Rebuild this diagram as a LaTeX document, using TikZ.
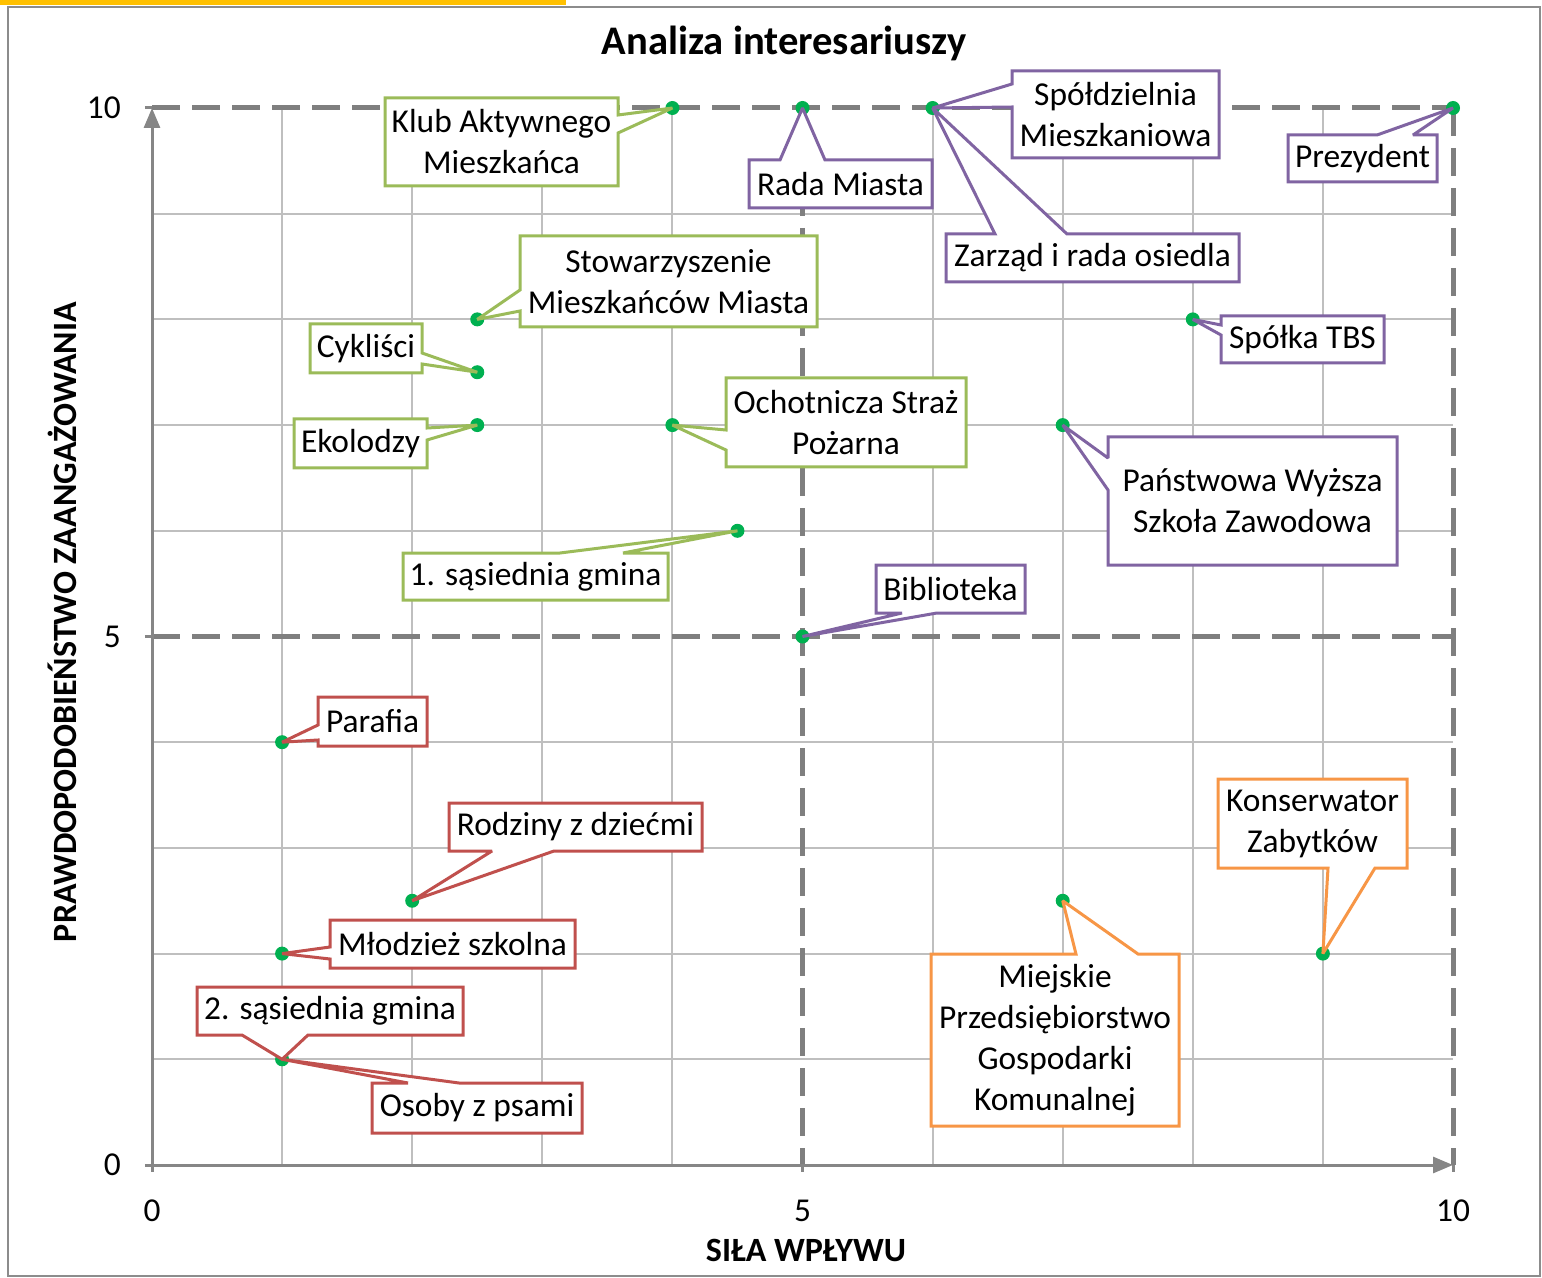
\documentclass[tikz,border=0pt]{standalone}
\usepackage{fontspec}
\setmainfont{Carlito}
\usetikzlibrary{calc,arrows.meta,backgrounds}
\definecolor{ptgreen}{HTML}{00B050}
\definecolor{cgreen}{HTML}{9BBB59}
\definecolor{cpurple}{HTML}{8064A2}
\definecolor{cred}{HTML}{C0504D}
\definecolor{corange}{HTML}{F79646}
\definecolor{gridgray}{HTML}{BFBFBF}
\definecolor{axisgray}{HTML}{868686}
\definecolor{dashgray}{HTML}{7F7F7F}
\definecolor{framegray}{HTML}{8C8C8C}
\definecolor{baryellow}{HTML}{FFC000}
\begin{document}
\begin{tikzpicture}[x=0.5pt,y=-0.5pt]
	\tikzstyle{gridline}=[draw=gridgray, line width=1pt]
	\tikzstyle{quadline}=[draw=dashgray, line width=2.5pt, dash pattern=on 14pt off 6pt]
	\tikzstyle{axisline}=[draw=axisgray, line width=1.5pt]
	\tikzstyle{point}=[circle, fill=ptgreen, inner sep=0pt, minimum size=7pt]
	\tikzstyle{tag}=[inner sep=0pt, outer sep=0pt, align=center, font=\fontsize{16.7}{20.5}\selectfont]
	\tikzstyle{heading}=[inner sep=0pt, font=\bfseries\fontsize{17}{20}\selectfont]
	\tikzstyle{bubble}=[line width=1.5pt, fill=white, miter limit=2]
	\useasboundingbox (0,0) rectangle (1542,1278);
	\fill[baryellow] (0,0) rectangle (566,5);
	\draw[draw=framegray, line width=1pt] (8,7) rectangle (1540,1276);
	\node[heading, font=\bfseries\fontsize{20.3}{24}\selectfont] (title) at (784,43) {Analiza interesariuszy};
	\node[heading] (xlab) at (806,1250) {SIŁA WPŁYWU};
	\node[heading, rotate=90] (ylab) at (62,622) {PRAWDOPODOBIEŃSTWO ZAANGAŻOWANIA};
	\begin{scope}[on background layer]
	\begin{scope}[shift={(152,1165)}, x=65.05pt, y=52.85pt]
		\foreach \i in {1,2,3,4,6,7,8,9} {
			\draw[gridline] (\i,0) -- (\i,10);
			\draw[gridline] (0,\i) -- (10,\i);
		}
		\draw[quadline] (0,10) -- (10,10);
		\draw[quadline] (0,5) -- (10,5);
		\draw[quadline] (5,10) -- (5,0);
		\draw[quadline] (10,10) -- (10,0);
		\draw[axisline, -{Triangle[length=10pt,width=8pt]}] (0,0) -- (10,0);
		\draw[axisline, -{Triangle[length=10pt,width=8pt]}] (0,0) -- (0,10);
		\foreach \v in {0,5,10} {
			\draw[axisline] (-0.055,\v) -- (0,\v);
			\draw[axisline] (\v,0) -- (\v,-0.07);
			\node[tag, anchor=east] at (-0.24,\v) {\v};
			\node[tag] at (\v,-0.43) {\v};
		}
		\node[point] (pklub) at (4,10) {};
		\node[point] (prada) at (5,10) {};
		\node[point] (pspoldz) at (6,10) {};
		\node[point] (pprez) at (10,10) {};
		\node[point] (pstow) at (2.5,8) {};
		\node[point] (pcykl) at (2.5,7.5) {};
		\node[point] (peko) at (2.5,7) {};
		\node[point] (posp) at (4,7) {};
		\node[point] (pgm1) at (4.5,6) {};
		\node[point] (pbibl) at (5,5) {};
		\node[point] (ptbs) at (8,8) {};
		\node[point] (ppwsz) at (7,7) {};
		\node[point] (pparaf) at (1,4) {};
		\node[point] (prodz) at (2,2.5) {};
		\node[point] (pmlodz) at (1,2) {};
		\node[point] (pgm2) at (1,1) {};
		\node[point] (pmpgk) at (7,2.5) {};
		\node[point] (pkons) at (9,2) {};
	\end{scope}
	\end{scope}
	\node[tag, minimum width=116.5pt, minimum height=44pt] (klub) at (501.5,142) {Klub Aktywnego\\Mieszkańca};
	\node[tag, minimum width=91.5pt, minimum height=24pt] (rada) at (840.5,184) {Rada Miasta};
	\node[tag, minimum width=103.5pt, minimum height=43.5pt] (spoldz) at (1115.5,114.5) {Spółdzielnia\\Mieszkaniowa};
	\node[tag, minimum width=146.5pt, minimum height=24pt] (zarzad) at (1092.5,258) {Zarząd i rada osiedla};
	\node[tag, minimum width=74.5pt, minimum height=23.5pt] (prez) at (1362.5,158.5) {Prezydent};
	\node[tag, minimum width=148.5pt, minimum height=45.5pt] (stow) at (668.5,281.5) {Stowarzyszenie\\Mieszkańców Miasta};
	\node[tag, minimum width=56pt, minimum height=24.5pt] (cykl) at (366,348.5) {Cykliści};
	\node[tag, minimum width=66.5pt, minimum height=24.5pt] (eko) at (360.5,443.5) {Ekolodzy};
	\node[tag, minimum width=120pt, minimum height=44.5pt] (osp) at (846,422.5) {Ochotnicza Straż\\Pożarna};
	\node[tag, minimum width=132.5pt, minimum height=23.5pt] (gm1) at (535.5,576.5) {1. sąsiednia gmina};
	\node[tag, minimum width=74.5pt, minimum height=24pt] (bibl) at (950.5,589) {Biblioteka};
	\node[tag, minimum width=81.5pt, minimum height=23.5pt] (tbs) at (1302.5,339.5) {Spółka TBS};
	\node[tag, minimum width=144.5pt, minimum height=64pt] (pwsz) at (1252.5,501) {Państwowa Wyższa\\Szkoła Zawodowa};
	\node[tag, minimum width=54.5pt, minimum height=24.5pt] (paraf) at (372.5,721.5) {Parafia};
	\node[tag, minimum width=126.5pt, minimum height=24pt] (rodz) at (575.5,827) {Rodziny z dziećmi};
	\node[tag, minimum width=122.5pt, minimum height=24pt] (mlodz) at (452.5,944) {Młodzież szkolna};
	\node[tag, minimum width=133pt, minimum height=24pt] (gm2) at (330,1011) {2. sąsiednia gmina};
	\node[tag, minimum width=105pt, minimum height=25pt] (psy) at (477,1108) {Osoby z psami};
	\node[tag, minimum width=124pt, minimum height=86pt] (mpgk) at (1055,1040) {Miejskie\\Przedsiębiorstwo\\Gospodarki\\Komunalnej};
	\node[tag, minimum width=94.5pt, minimum height=44.5pt] (kons) at (1312.5,823.5) {Konserwator\\Zabytków};
	\begin{scope}[on background layer]
		\path[bubble, draw=cgreen] (klub.north west) -- (klub.north east) -- ($(klub.north east)+(0,17)$) -- (pklub.center) -- ($(klub.north east)+(0,35)$) -- (klub.south east) -- (klub.south west) -- cycle;
		\path[bubble, draw=cgreen] (stow.north west) -- (stow.north east) -- (stow.south east) -- (stow.south west) -- ($(stow.north west)+(0,75)$) -- (pstow.center) -- ($(stow.north west)+(0,54)$) -- cycle;
		\path[bubble, draw=cgreen] (cykl.north west) -- (cykl.north east) -- ($(cykl.north east)+(0,29)$) -- (pcykl.center) -- ($(cykl.north east)+(0,40)$) -- (cykl.south east) -- (cykl.south west) -- cycle;
		\path[bubble, draw=cgreen] (eko.north west) -- (eko.north east) -- ($(eko.north east)+(0,9)$) -- (peko.center) -- ($(eko.north east)+(0,21)$) -- (eko.south east) -- (eko.south west) -- cycle;
		\path[bubble, draw=cgreen] (osp.north west) -- (osp.north east) -- (osp.south east) -- (osp.south west) -- ($(osp.north west)+(0,72)$) -- (posp.center) -- ($(osp.north west)+(0,52)$) -- cycle;
		\path[bubble, draw=cgreen] (gm1.north west) -- ($(gm1.north west)+(157,0)$) -- (pgm1.center) -- ($(gm1.north west)+(220,0)$) -- (gm1.north east) -- (gm1.south east) -- (gm1.south west) -- cycle;
		\path[bubble, draw=cpurple] (rada.north west) -- ($(rada.north west)+(31,0)$) -- (prada.center) -- ($(rada.north west)+(76,0)$) -- (rada.north east) -- (rada.south east) -- (rada.south west) -- cycle;
		\path[bubble, draw=cpurple] (spoldz.north west) -- (spoldz.north east) -- (spoldz.south east) -- (spoldz.south west) -- ($(spoldz.north west)+(0,36)$) -- (pspoldz.center) -- ($(spoldz.north west)+(0,13)$) -- cycle;
		\path[bubble, draw=cpurple] (zarzad.north west) -- ($(zarzad.north west)+(49,0)$) -- (pspoldz.center) -- ($(zarzad.north west)+(121,0)$) -- (zarzad.north east) -- (zarzad.south east) -- (zarzad.south west) -- cycle;
		\path[bubble, draw=cpurple] (prez.north west) -- ($(prez.north west)+(89,0)$) -- (pprez.center) -- ($(prez.north west)+(125,0)$) -- (prez.north east) -- (prez.south east) -- (prez.south west) -- cycle;
		\path[bubble, draw=cpurple] (bibl.north west) -- (bibl.north east) -- (bibl.south east) -- ($(bibl.south west)+(61,0)$) -- (pbibl.center) -- ($(bibl.south west)+(26,0)$) -- (bibl.south west) -- cycle;
		\path[bubble, draw=cpurple] (tbs.north west) -- (tbs.north east) -- (tbs.south east) -- (tbs.south west) -- ($(tbs.north west)+(0,19)$) -- (ptbs.center) -- ($(tbs.north west)+(0,9)$) -- cycle;
		\path[bubble, draw=cpurple] (pwsz.north west) -- (pwsz.north east) -- (pwsz.south east) -- (pwsz.south west) -- ($(pwsz.north west)+(0,53)$) -- (ppwsz.center) -- ($(pwsz.north west)+(0,21)$) -- cycle;
		\path[bubble, draw=cred] (paraf.north west) -- (paraf.north east) -- (paraf.south east) -- (paraf.south west) -- ($(paraf.north west)+(0,43)$) -- (pparaf.center) -- ($(paraf.north west)+(0,28)$) -- cycle;
		\path[bubble, draw=cred] (rodz.north west) -- (rodz.north east) -- (rodz.south east) -- ($(rodz.south west)+(105,0)$) -- (prodz.center) -- ($(rodz.south west)+(43,0)$) -- (rodz.south west) -- cycle;
		\path[bubble, draw=cred] (mlodz.north west) -- (mlodz.north east) -- (mlodz.south east) -- (mlodz.south west) -- ($(mlodz.north west)+(0,39)$) -- (pmlodz.center) -- ($(mlodz.north west)+(0,27)$) -- cycle;
		\path[bubble, draw=cred] (gm2.north west) -- (gm2.north east) -- (gm2.south east) -- ($(gm2.south west)+(111,0)$) -- (pgm2.center) -- ($(gm2.south west)+(45,0)$) -- (gm2.south west) -- cycle;
		\path[bubble, draw=cred] (psy.north west) -- ($(psy.north west)+(36,0)$) -- (pgm2.center) -- ($(psy.north west)+(87,0)$) -- (psy.north east) -- (psy.south east) -- (psy.south west) -- cycle;
		\path[bubble, draw=corange] (mpgk.north west) -- ($(mpgk.north west)+(145,0)$) -- (pmpgk.center) -- ($(mpgk.north west)+(207,0)$) -- (mpgk.north east) -- (mpgk.south east) -- (mpgk.south west) -- cycle;
		\path[bubble, draw=corange] (kons.north west) -- (kons.north east) -- (kons.south east) -- ($(kons.south west)+(157,0)$) -- (pkons.center) -- ($(kons.south west)+(110,0)$) -- (kons.south west) -- cycle;
	\end{scope}
\end{tikzpicture}
\end{document}
